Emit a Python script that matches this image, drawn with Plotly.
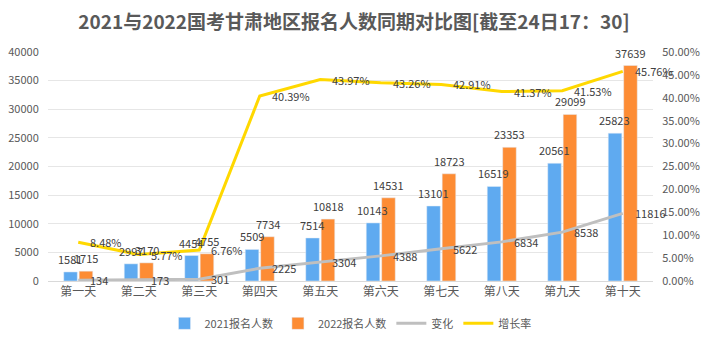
import plotly.graph_objects as go

days = ["第一天", "第二天", "第三天", "第四天", "第五天", "第六天", "第七天", "第八天", "第九天", "第十天"]
y2021 = [1581, 2997, 4454, 5509, 7514, 10143, 13101, 16519, 20561, 25823]
y2022 = [1715, 3170, 4755, 7734, 10818, 14531, 18723, 23353, 29099, 37639]
change = [134, 173, 301, 2225, 3304, 4388, 5622, 6834, 8538, 11816]
growth = [8.48, 5.77, 6.76, 40.39, 43.97, 43.26, 42.91, 41.37, 41.53, 45.76]

FONT = "Noto Sans CJK SC, Microsoft YaHei, sans-serif"
LABEL = dict(family=FONT, size=11, color="#404040")

fig = go.Figure()
fig.add_trace(go.Bar(x=days, y=y2021, name="2021报名人数", marker_color="#5FAAF0"))
fig.add_trace(go.Bar(x=days, y=y2022, name="2022报名人数", marker_color="#FD8C34"))
fig.add_trace(go.Scatter(
    x=days, y=change, name="变化", mode="lines",
    line=dict(color="#BFBFBF", width=3)))
fig.add_trace(go.Scatter(
    x=days, y=growth, name="增长率", mode="lines", yaxis="y2",
    line=dict(color="#FFD800", width=3)))

annotations = []
# bar value labels drawn on top of all bars
for series, shift in ((y2021, -8), (y2022, 8)):
    for d, v in zip(days, series):
        annotations.append(dict(
            x=d, y=v, xref="x", yref="y", text=str(v), showarrow=False,
            xanchor="center", yanchor="bottom", xshift=shift, yshift=3, font=LABEL))
# line value labels to the right of points
for d, v in zip(days, change):
    annotations.append(dict(
        x=d, y=v, xref="x", yref="y", text=str(v), showarrow=False,
        xanchor="left", yanchor="middle", xshift=10, font=LABEL))
for d, v in zip(days, growth):
    annotations.append(dict(
        x=d, y=v, xref="x", yref="y2", text=f"{v:.2f}%", showarrow=False,
        xanchor="left", yanchor="middle", xshift=10, font=LABEL))

fig.update_layout(
    width=708, height=344,
    margin=dict(l=48, r=55, t=52, b=63, autoexpand=False),
    paper_bgcolor="white", plot_bgcolor="white",
    font=dict(family=FONT, size=11, color="#595959"),
    title=dict(text="<b>2021与2022国考甘肃地区报名人数同期对比图[截至24日17：30]</b>",
               x=0.5, xanchor="center", y=0.935, yanchor="middle",
               font=dict(family=FONT, size=19, color="#595959")),
    barmode="group", bargap=0.49, bargroupgap=0.12,
    showlegend=True,
    legend=dict(orientation="h", x=0.5, xanchor="center", y=-0.185, yanchor="middle",
                font=dict(family=FONT, size=11, color="#595959"),
                itemwidth=30, tracegroupgap=0),
    annotations=annotations,
    xaxis=dict(range=[-0.5, len(days) - 0.5], autorange=False,
               showline=True, linecolor="#D9D9D9", ticks="", showgrid=False,
               tickfont=dict(family=FONT, size=12, color="#595959")),
    yaxis=dict(range=[0, 40000], dtick=5000, showgrid=True, gridcolor="#E6E6E6",
               zeroline=False, tickformat="d", ticks="outside", ticklen=6,
               tickcolor="rgba(0,0,0,0)",
               tickfont=dict(family=FONT, size=11, color="#595959")),
    yaxis2=dict(range=[0, 50], dtick=5, overlaying="y", side="right", showgrid=False,
                zeroline=False, tickformat=".2f", ticksuffix="%", ticks="outside",
                ticklen=6, tickcolor="rgba(0,0,0,0)",
                tickfont=dict(family=FONT, size=11, color="#595959")),
)

fig.write_html("out.html")
